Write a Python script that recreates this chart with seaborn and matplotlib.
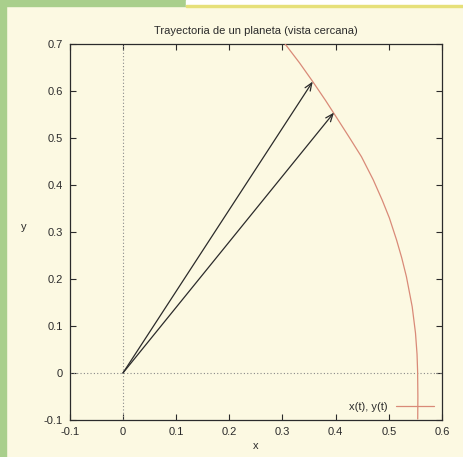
import matplotlib
matplotlib.use("Agg")
import matplotlib.pyplot as plt
from matplotlib.patches import Rectangle
import pandas as pd
import seaborn as sns

# ── data ──────────────────────────────────────────────────────────────────
orbit_x = [0.305, 0.332, 0.357, 0.381, 0.401, 0.4265, 0.4487, 0.4708, 0.4876,
           0.5011, 0.5147, 0.5244, 0.5332, 0.5441, 0.5503, 0.5532, 0.5543,
           0.5548, 0.5545]
orbit_y = [0.700, 0.660, 0.620, 0.580, 0.545, 0.500, 0.460, 0.411, 0.368,
           0.330, 0.283, 0.245, 0.205, 0.141, 0.085, 0.040, 0.003,
           -0.050, -0.098]
arrow_x = [0.357, 0.397]
arrow_y = [0.620, 0.554]
x_ticks = [-0.1, 0, 0.1, 0.2, 0.3, 0.4, 0.5, 0.6]
y_ticks = [-0.1, 0, 0.1, 0.2, 0.3, 0.4, 0.5, 0.6, 0.7]
x_labels = ["-0.1", "0", "0.1", "0.2", "0.3", "0.4", "0.5", "0.6"]
y_labels = ["-0.1", "0", "0.1", "0.2", "0.3", "0.4", "0.5", "0.6", "0.7"]

orbit = pd.DataFrame({"x": orbit_x, "y": orbit_y})

PAGE = "#fcf9e2"
RED = "#d98a78"
INK = "#2b2b2b"

sns.set_style("ticks")
plt.rcParams["font.family"] = ["Liberation Sans", "DejaVu Sans"]

fig = plt.figure(figsize=(4.64, 4.57), dpi=100, facecolor=PAGE)
# magazine page border
fig.patches.append(Rectangle((0, 0), 0.012, 1, transform=fig.transFigure,
                             color="#a9cf8c", zorder=0))
fig.patches.append(Rectangle((0, 0.987), 0.40, 0.013, transform=fig.transFigure,
                             color="#a9cf8c", zorder=0))
fig.patches.append(Rectangle((0.40, 0.987), 0.60, 0.013, transform=fig.transFigure,
                             color="#ffffff", zorder=0))
fig.patches.append(Rectangle((0.40, 0.984), 0.60, 0.004, transform=fig.transFigure,
                             color="#e6e07a", zorder=0))

ax = fig.add_axes([0.1504, 0.081, 0.802, 0.8228])
ax.set_facecolor(PAGE)

ax.axhline(0, color="#888888", ls=(0, (1, 2)), lw=0.8, zorder=1)
ax.axvline(0, color="#888888", ls=(0, (1, 2)), lw=0.8, zorder=1)

sns.lineplot(data=orbit, x="x", y="y", sort=False, estimator=None,
             color=RED, lw=0.9, label="x(t), y(t)", ax=ax, zorder=3)

for xa, ya in zip(arrow_x, arrow_y):
    ax.annotate("", xy=(xa, ya), xytext=(0, 0),
                arrowprops=dict(arrowstyle="->,head_length=0.55,head_width=0.22",
                                color=INK, lw=0.9, shrinkA=0, shrinkB=0),
                zorder=4)

ax.set_xlim(-0.1, 0.6)
ax.set_ylim(-0.1, 0.7)
ax.set_xticks(x_ticks)
ax.set_xticklabels(x_labels)
ax.set_yticks(y_ticks)
ax.set_yticklabels(y_labels)
ax.tick_params(direction="in", top=True, right=True, length=4, width=0.8,
               labelsize=8, colors=INK, pad=5)
for s in ax.spines.values():
    s.set_visible(True)
    s.set_linewidth(0.9)
    s.set_color(INK)

ax.set_xlabel("x", fontsize=8, color=INK, labelpad=3)
ax.set_ylabel("y", fontsize=8, color=INK, rotation=0, labelpad=14)
ax.set_title("Trayectoria de un planeta (vista cercana)", fontsize=8,
             color=INK, pad=7)

ax.legend(loc="lower right", frameon=False, markerfirst=False, fontsize=8,
          handlelength=3.4, borderaxespad=0.3, labelcolor=INK)

fig.savefig("out.png", dpi=100, facecolor=PAGE)
